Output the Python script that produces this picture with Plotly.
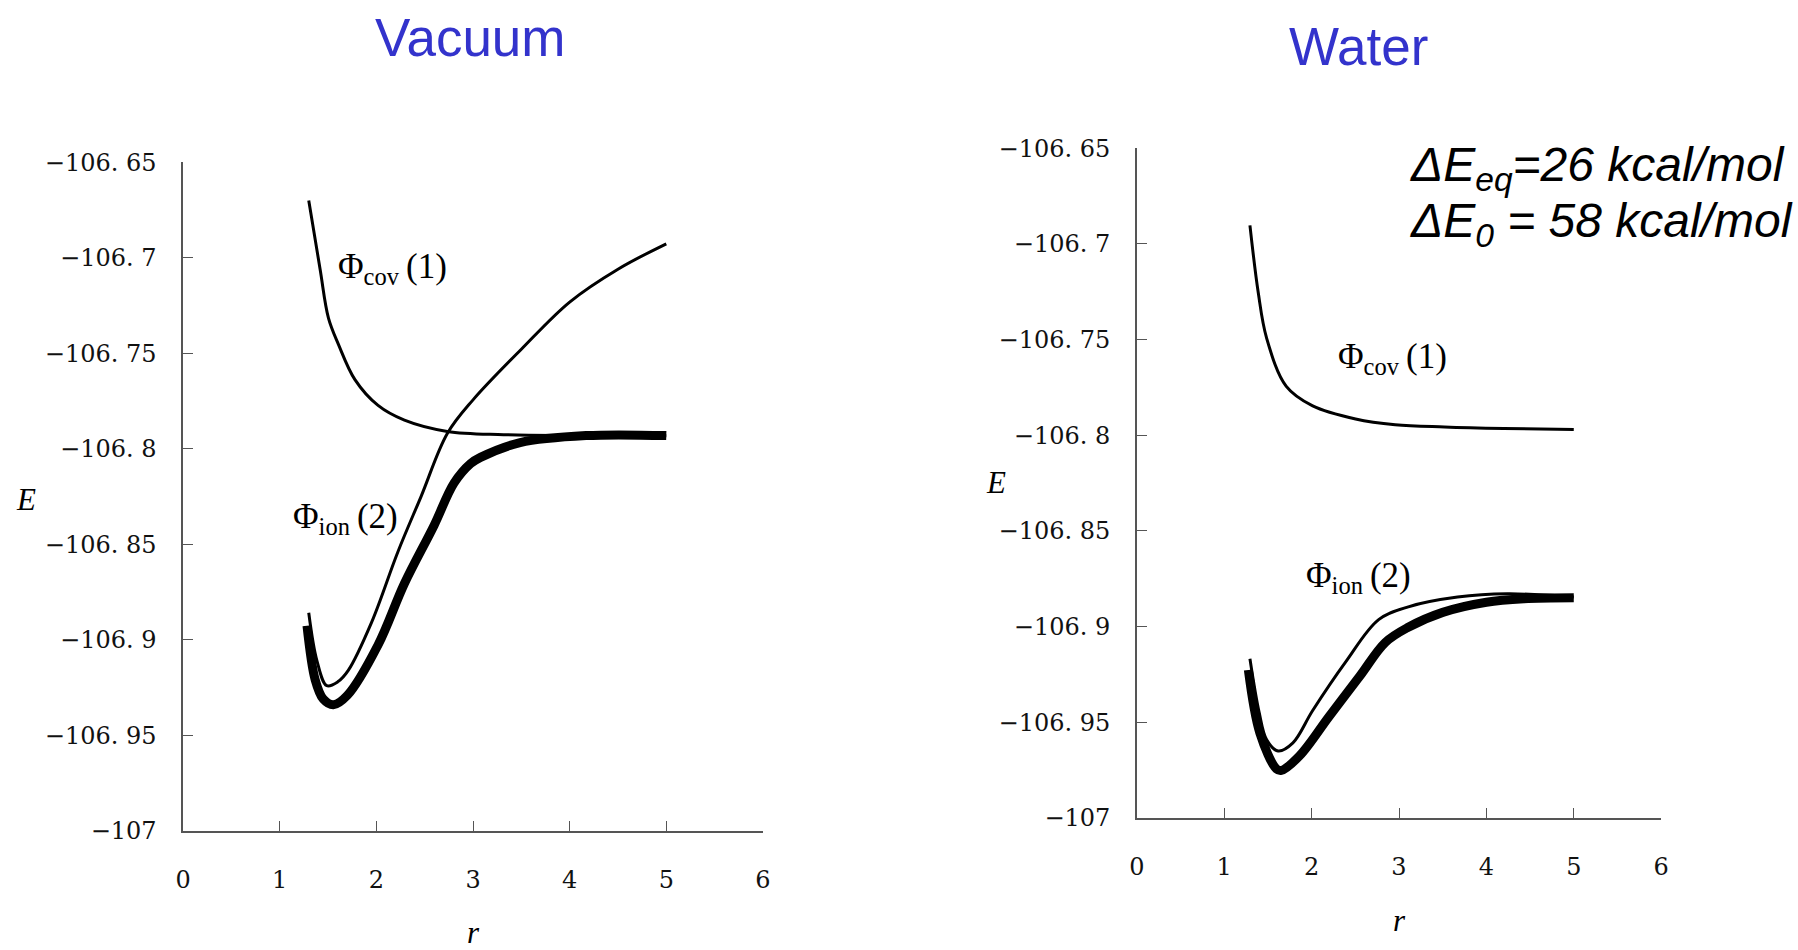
import plotly.graph_objects as go

W, H = 1798, 950

# ---- data: potential energy curves E(r) ----
# Vacuum
vac_cov_r = [1.30, 1.418, 1.504, 1.606, 1.778, 2.017, 2.29, 2.734, 3.316, 4.0, 5.0]
vac_cov_E = [-106.670, -106.7062, -106.7316, -106.7452, -106.7638, -106.7773, -106.785,
             -106.7909, -106.7926, -106.7931, -106.7932]

vac_ion_r = [1.30, 1.385, 1.487, 1.60, 1.709, 1.949, 2.222, 2.462, 2.734, 3.0, 3.5,
             4.0, 4.5, 5.0]
vac_ion_E = [-106.8858, -106.911, -106.924, -106.922, -106.916, -106.891, -106.854,
             -106.825, -106.792, -106.7744, -106.7479, -106.7232, -106.706, -106.6927]

vac_gs_r = [1.282, 1.367, 1.45, 1.555, 1.70, 2.017, 2.29, 2.598, 2.803, 2.974, 3.077,
            3.487, 4.17, 5.0]
vac_gs_E = [-106.8926, -106.921, -106.931, -106.934, -106.929, -106.9027, -106.8705,
            -106.84, -106.818, -106.8078, -106.8045, -106.7968, -106.7931, -106.7931]

# Water
wat_cov_r = [1.294, 1.389, 1.484, 1.71, 2.012, 2.503, 2.956, 3.52, 4.2, 5.0]
wat_cov_E = [-106.6903, -106.7254, -106.7491, -106.7745, -106.7847, -106.7915, -106.7945,
             -106.7957, -106.7965, -106.797]

wat_ion_r = [1.294, 1.40, 1.484, 1.616, 1.786, 2.012, 2.39, 2.767, 3.107, 3.67,
             4.24, 5.0]
wat_ion_E = [-106.9168, -106.945, -106.9591, -106.965, -106.9608, -106.9439, -106.9185,
             -106.8964, -106.8897, -106.8846, -106.8829, -106.8845]

wat_gs_r = [1.276, 1.408, 1.597, 1.653, 1.861, 2.2, 2.55, 2.843, 3.1, 3.5, 4.0, 4.43, 5.0]
wat_gs_E = [-106.9227, -106.9557, -106.9744, -106.9752, -106.9676, -106.947, -106.926,
            -106.9083, -106.9005, -106.8926, -106.8873, -106.8855, -106.885]

# ---- axis ticks ----
y_tickvals = [-107, -106.95, -106.9, -106.85, -106.8, -106.75, -106.7, -106.65]
y_ticktext = ["\u2212107", "\u2212106. 95", "\u2212106. 9", "\u2212106. 85", "\u2212106. 8",
              "\u2212106. 75", "\u2212106. 7", "\u2212106. 65"]
x_tickvals = [0, 1, 2, 3, 4, 5, 6]
x_ticktext = ["0", "1", "2", "3", "4", "5", "6"]


def px(x):
    return x / W


def py(y):
    return 1 - y / H


fig = go.Figure()

thin = dict(color="black", width=3)
thick = dict(color="black", width=9)

for xa, ya, sets in [
    ("x", "y", [(vac_cov_r, vac_cov_E, thin), (vac_ion_r, vac_ion_E, thin),
                (vac_gs_r, vac_gs_E, thick)]),
    ("x2", "y2", [(wat_cov_r, wat_cov_E, thin), (wat_ion_r, wat_ion_E, thin),
                  (wat_gs_r, wat_gs_E, thick)]),
]:
    for r, e, ln in sets:
        fig.add_trace(go.Scatter(x=r, y=e, mode="lines", xaxis=xa, yaxis=ya,
                                 line=dict(shape="spline", smoothing=1.0, **ln),
                                 showlegend=False, hoverinfo="skip"))

serif = "Liberation Serif, Times New Roman, serif"
sans = "Liberation Sans, Arial, sans-serif"
tickfont = dict(family="DejaVu Serif, serif", size=24, color="#111")
axcol = "#555"
rfont = dict(family=serif, size=31, color="black")

common_x = dict(range=[0, 6], tickvals=x_tickvals, ticktext=x_ticktext, ticks="inside",
                ticklen=10, tickcolor=axcol, tickwidth=1.2, showline=True, linecolor=axcol,
                linewidth=1.5, showgrid=False, zeroline=False, tickfont=tickfont,
                ticklabelstandoff=27)
common_y = dict(range=[-107, -106.65], tickvals=y_tickvals, ticktext=y_ticktext,
                ticks="inside", ticklen=10, tickcolor=axcol, tickwidth=1.2, showline=True,
                linecolor=axcol, linewidth=1.5, showgrid=False, zeroline=False,
                tickfont=tickfont, ticklabelstandoff=20)

fig.update_layout(
    width=W, height=H,
    margin=dict(l=0, r=0, t=0, b=0),
    paper_bgcolor="white", plot_bgcolor="white",
    xaxis=dict(domain=[px(176.7), px(761.7)], anchor="y",
               title=dict(text="<i>r</i>\u2002", font=rfont, standoff=33), **common_x),
    yaxis=dict(domain=[py(841.7), py(152.7)], anchor="x", **common_y),
    xaxis2=dict(domain=[px(1139), px(1668)], anchor="y2",
                title=dict(text="<i>r</i>", font=rfont, standoff=29), **common_x),
    yaxis2=dict(domain=[py(828.3), py(138.3)], anchor="x2", **common_y),
)

title_col = "#3333CC"
ts = "\u2009"

ann = [
    # panel titles
    dict(x=px(466.7), y=py(24), text="Vacuum", font=dict(family=sans, size=53, color=title_col),
         xanchor="center", yanchor="middle"),
    dict(x=px(1362.5), y=py(33), text="Water", font=dict(family=sans, size=53, color=title_col),
         xanchor="center", yanchor="middle"),
    # energy axis labels
    dict(x=px(18), y=py(500), text="<i>E</i>", font=dict(family=serif, size=31, color="black"),
         xanchor="center", yanchor="middle"),
    dict(x=px(997), y=py(483), text="<i>E</i>", font=dict(family=serif, size=31, color="black"),
         xanchor="center", yanchor="middle"),
    # curve labels
    dict(x=px(331), y=py(262), text="\u03a6<sub>cov</sub>" + ts + "(1)",
         font=dict(family=serif, size=35, color="black"), xanchor="left", yanchor="middle"),
    dict(x=px(286), y=py(520), text="\u03a6<sub>ion</sub>" + ts + "(2)",
         font=dict(family=serif, size=35, color="black"), xanchor="left", yanchor="middle"),
    dict(x=px(1340), y=py(355), text="\u03a6<sub>cov</sub>" + ts + "(1)",
         font=dict(family=serif, size=35, color="black"), xanchor="left", yanchor="middle"),
    dict(x=px(1308), y=py(581), text="\u03a6<sub>ion</sub>" + ts + "(2)",
         font=dict(family=serif, size=35, color="black"), xanchor="left", yanchor="middle"),
    # energy gaps
    dict(x=px(1413), y=py(159), text="<i>\u0394E<sub>eq</sub>=26 kcal/mol</i>",
         font=dict(family=sans, size=48, color="black"), xanchor="left", yanchor="middle"),
    dict(x=px(1413), y=py(216), text="<i>\u0394E<sub>0</sub> = 58 kcal/mol</i>",
         font=dict(family=sans, size=48, color="black"), xanchor="left", yanchor="middle"),
]
for a in ann:
    a.update(xref="paper", yref="paper", showarrow=False)
fig.update_layout(annotations=ann)

fig.write_html("out.html")
